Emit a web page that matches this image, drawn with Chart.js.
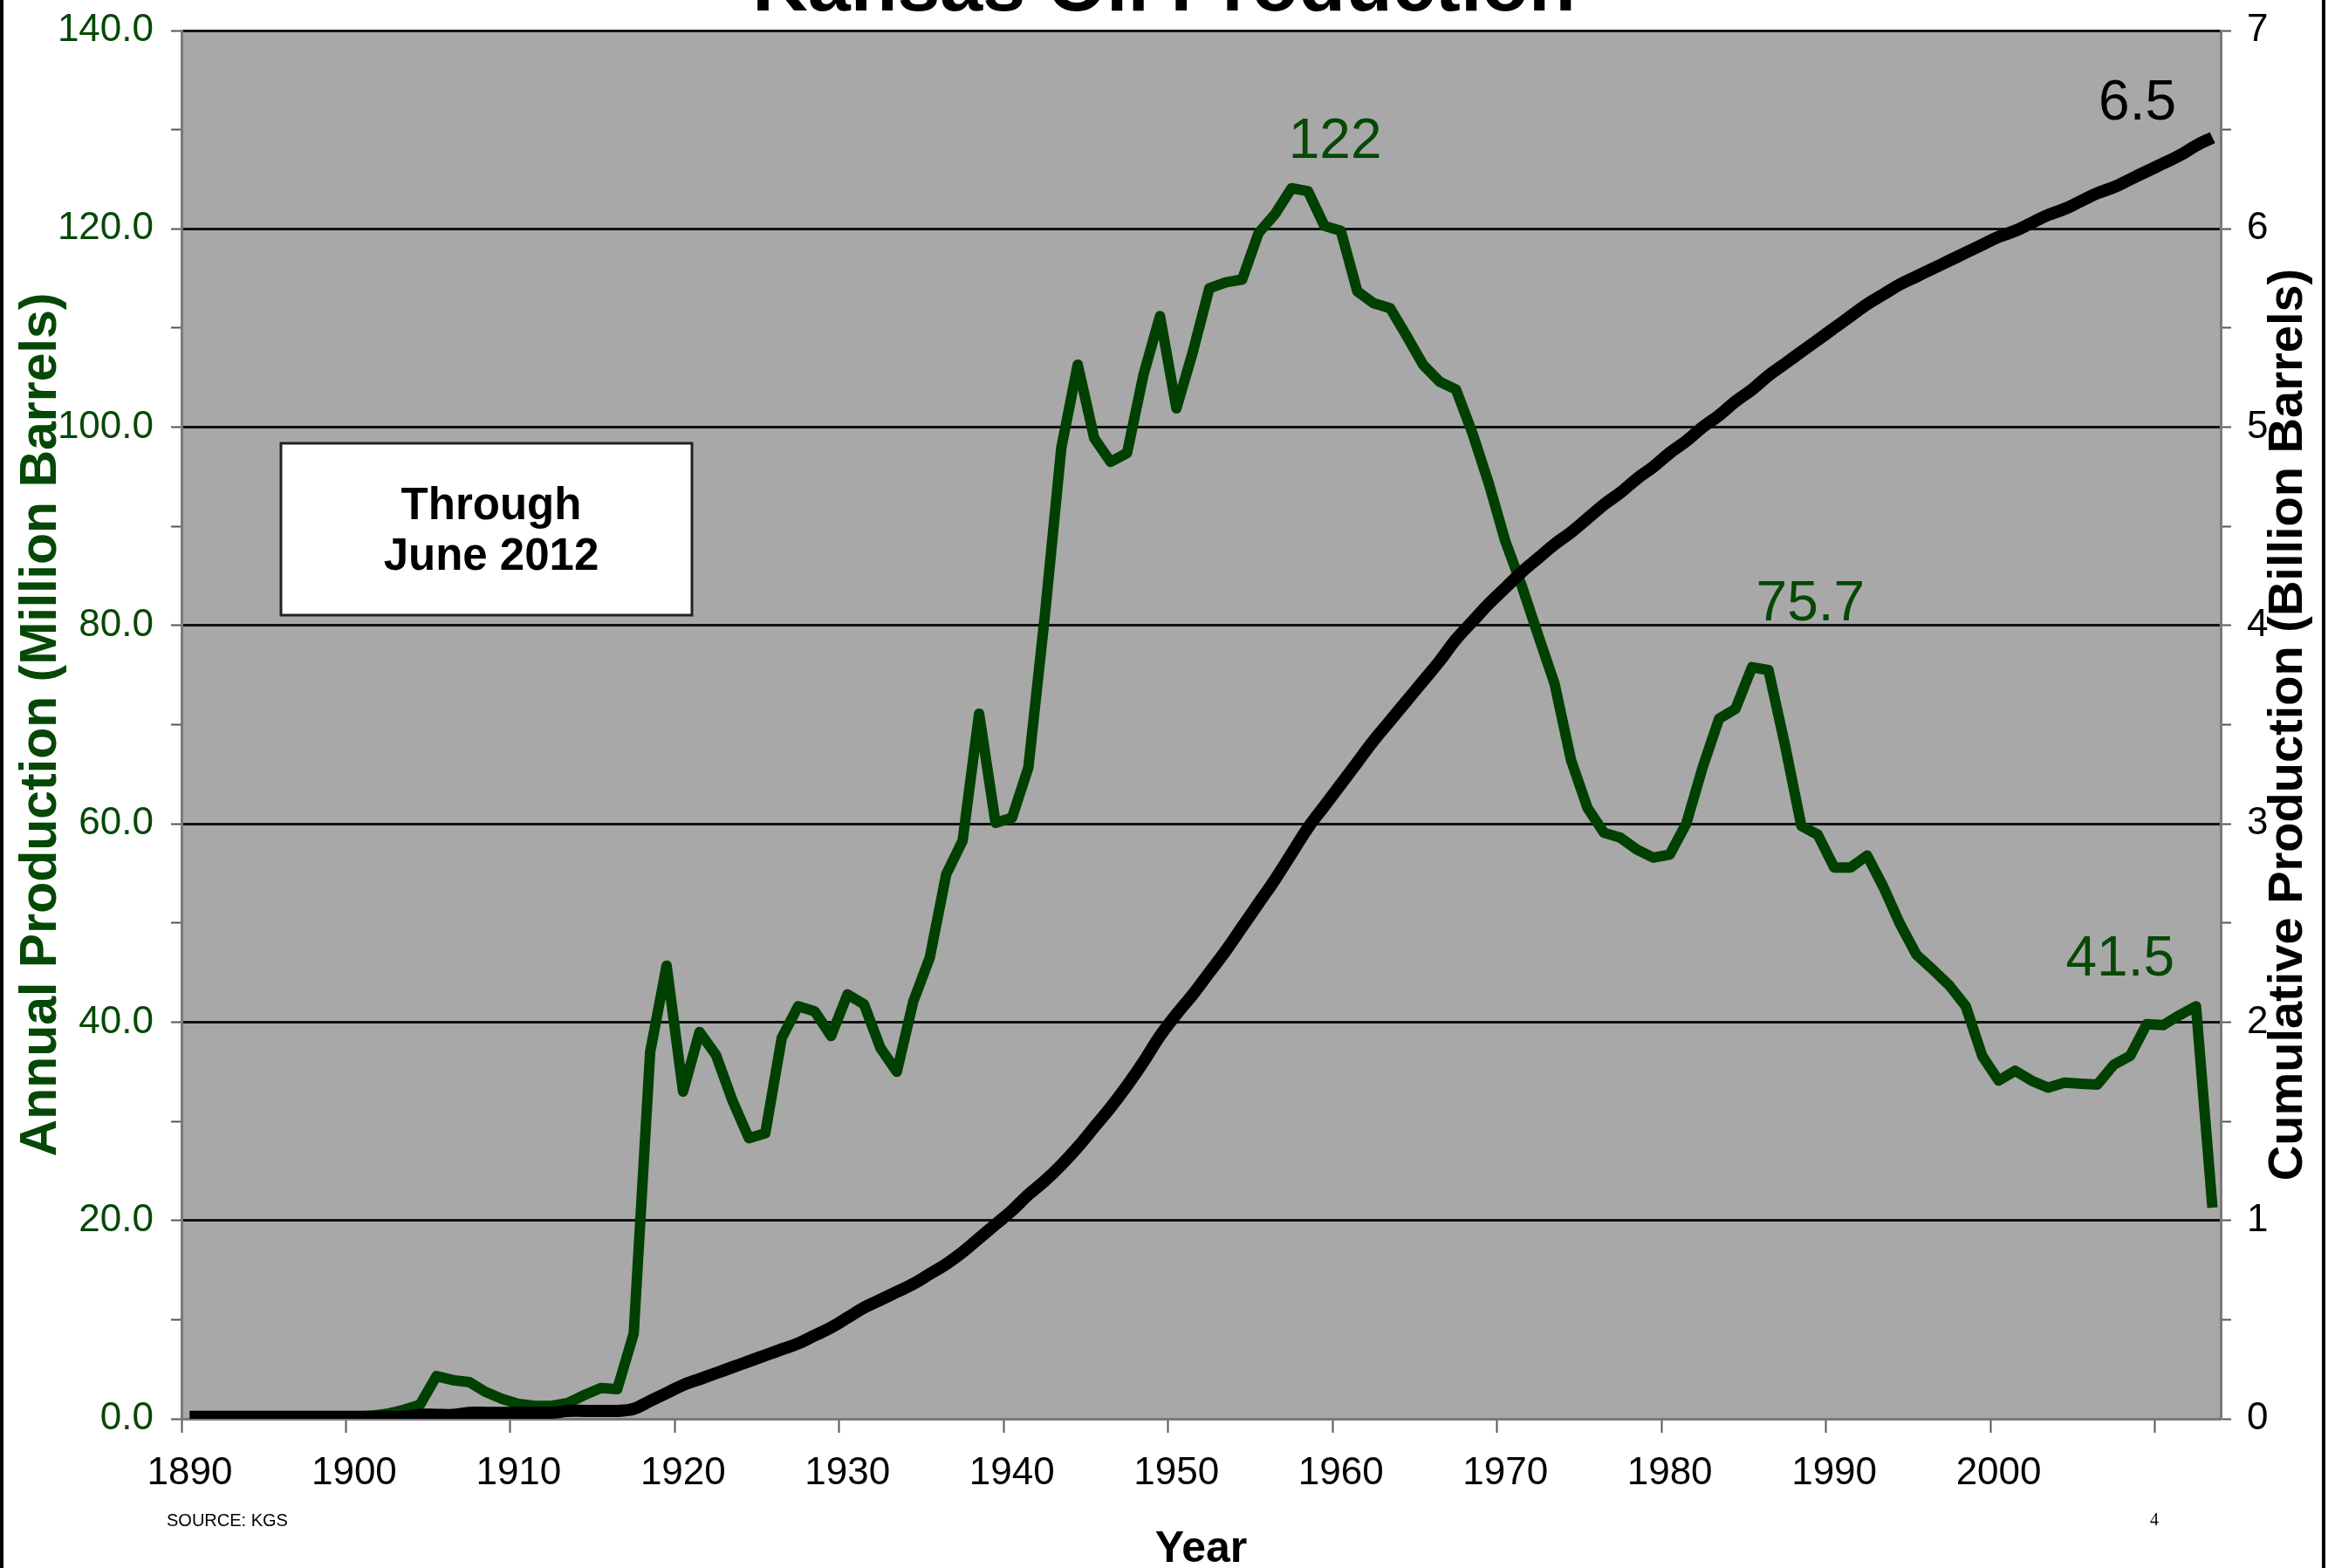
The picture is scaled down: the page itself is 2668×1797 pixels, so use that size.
<!DOCTYPE html>
<html>
<head>
<meta charset="utf-8">
<title>Kansas Oil Production</title>
<script src="https://cdn.jsdelivr.net/npm/chart.js@4.4.1/dist/chart.umd.min.js"></script>
<style>
  html, body { margin: 0; padding: 0; background: #fff; }
  #wrap { width: 2668px; height: 1797px; position: relative; }
</style>
</head>
<body>
<div id="wrap"><canvas id="oilChart" width="2668" height="1797"></canvas></div>
<script>
// categories (one per year on the axis)
const years = [
  1890, 1891, 1892, 1893, 1894, 1895, 1896, 1897, 1898, 1899,
  1900, 1901, 1902, 1903, 1904, 1905, 1906, 1907, 1908, 1909,
  1910, 1911, 1912, 1913, 1914, 1915, 1916, 1917, 1918, 1919,
  1920, 1921, 1922, 1923, 1924, 1925, 1926, 1927, 1928, 1929,
  1930, 1931, 1932, 1933, 1934, 1935, 1936, 1937, 1938, 1939,
  1940, 1941, 1942, 1943, 1944, 1945, 1946, 1947, 1948, 1949,
  1950, 1951, 1952, 1953, 1954, 1955, 1956, 1957, 1958, 1959,
  1960, 1961, 1962, 1963, 1964, 1965, 1966, 1967, 1968, 1969,
  1970, 1971, 1972, 1973, 1974, 1975, 1976, 1977, 1978, 1979,
  1980, 1981, 1982, 1983, 1984, 1985, 1986, 1987, 1988, 1989,
  1990, 1991, 1992, 1993, 1994, 1995, 1996, 1997, 1998, 1999,
  2000, 2001, 2002, 2003, 2004, 2005, 2006, 2007, 2008, 2009,
  2010, 2011, 2012, 2013
];

// annual production, million barrels (left axis)
const annualProduction = [
  0.2, 0.2, 0.2, 0.2, 0.2, 0.2, 0.2, 0.2, 0.2, 0.2,
  0.2, 0.3, 0.5, 0.9, 1.4, 4.3, 3.9, 3.7, 2.7, 2.0,
  1.5, 1.3, 1.3, 1.6, 2.4, 3.1, 3.0, 8.6, 37.0, 45.7,
  33.0, 39.0, 36.7, 32.1, 28.3, 28.8, 38.4, 41.6, 41.1, 38.6,
  42.8, 41.8, 37.4, 35.0, 42.1, 46.5, 54.9, 58.3, 71.1, 60.1,
  60.6, 65.7, 81.0, 97.9, 106.3, 98.9, 96.5, 97.4, 105.3, 111.2,
  101.9, 107.6, 114.0, 114.6, 114.9, 119.6, 121.5, 124.1, 123.8, 120.3,
  119.8, 113.7, 112.5, 112.0, 109.2, 106.3, 104.6, 103.8, 99.4, 94.3,
  88.5, 84.0, 79.0, 74.1, 66.4, 61.6, 59.1, 58.6, 57.4, 56.6,
  56.9, 60.0, 65.7, 70.6, 71.6, 75.8, 75.5, 68.0, 59.8, 58.9,
  55.6, 55.6, 56.8, 53.6, 49.9, 46.8, 45.3, 43.7, 41.6, 36.6,
  34.1, 35.1, 34.1, 33.4, 33.9, 33.8, 33.7, 35.7, 36.6, 39.8,
  39.7, 40.7, 41.6, 21.3
];

// cumulative production, billion barrels (right axis)
const cumulativeProduction = [
  0.01, 0.01, 0.01, 0.01, 0.01, 0.01, 0.01, 0.01, 0.01, 0.01,
  0.01, 0.01, 0.01, 0.01, 0.02, 0.02, 0.02, 0.03, 0.03, 0.03,
  0.03, 0.03, 0.03, 0.04, 0.04, 0.04, 0.04, 0.05, 0.09, 0.13,
  0.17, 0.20, 0.23, 0.26, 0.29, 0.32, 0.35, 0.38, 0.42, 0.46,
  0.51, 0.56, 0.60, 0.64, 0.68, 0.73, 0.78, 0.84, 0.91, 0.98,
  1.05, 1.13, 1.20, 1.28, 1.37, 1.47, 1.57, 1.68, 1.80, 1.93,
  2.04, 2.14, 2.25, 2.36, 2.48, 2.60, 2.72, 2.85, 2.98, 3.09,
  3.20, 3.31, 3.42, 3.52, 3.62, 3.72, 3.82, 3.93, 4.02, 4.11,
  4.19, 4.27, 4.34, 4.41, 4.47, 4.54, 4.61, 4.67, 4.74, 4.80,
  4.87, 4.93, 5.00, 5.06, 5.13, 5.19, 5.26, 5.32, 5.38, 5.44,
  5.50, 5.56, 5.62, 5.67, 5.72, 5.76, 5.80, 5.84, 5.88, 5.92,
  5.96, 5.99, 6.03, 6.07, 6.10, 6.14, 6.18, 6.21, 6.25, 6.29,
  6.33, 6.37, 6.42, 6.46
];

// callout texts and the year they sit by
const peakLabels = ['122', '75.7', '41.5'];
const peakYears = [1957, 1985, 2012];
const cumulativeLabel = '6.5';
const noteLines = ['Through', 'June 2012'];

const FONT = '"Liberation Sans", Arial, Helvetica, sans-serif';
const GREEN = '#004000';
const GREEN_TEXT = '#064806';

const decor = {
  id: 'decor',
  beforeDraw(chart) {
    const { ctx, chartArea: a } = chart;
    ctx.save();
    ctx.fillStyle = '#ffffff';
    ctx.fillRect(0, 0, chart.width, chart.height);
    ctx.fillStyle = '#a8a8a8';
    ctx.fillRect(a.left, a.top, a.right - a.left, a.bottom - a.top);
    ctx.restore();
  },
  afterDatasetsDraw(chart) {
    const { ctx, chartArea: a } = chart;
    const xs = chart.scales.x, yl = chart.scales.yLeft, yr = chart.scales.yRight;
    ctx.save();

    // peak callouts
    const offsets = [[50, -35], [67, -54], [-87, -35]];
    ctx.font = '64px ' + FONT;
    ctx.textAlign = 'center';
    ctx.textBaseline = 'alphabetic';
    ctx.fillStyle = GREEN_TEXT;
    peakLabels.forEach((t, k) => {
      const i = years.indexOf(peakYears[k]);
      ctx.fillText(t, xs.getPixelForValue(i) + offsets[k][0],
        yl.getPixelForValue(annualProduction[i]) + offsets[k][1]);
    });
    const last = years.length - 1;
    ctx.fillStyle = '#000';
    ctx.fillText(cumulativeLabel, xs.getPixelForValue(last) - 86,
      yr.getPixelForValue(cumulativeProduction[last]) - 21);

    // "Through June 2012" box
    const bx = a.left + 114, by = a.top + 473, bw = 471, bh = 197;
    ctx.fillStyle = '#ffffff';
    ctx.fillRect(bx, by, bw, bh);
    ctx.lineWidth = 3;
    ctx.strokeStyle = '#222';
    ctx.strokeRect(bx, by, bw, bh);
    ctx.fillStyle = '#000';
    ctx.font = 'bold 51px ' + FONT;
    ctx.fillText(noteLines[0], bx + 241, by + 87);
    ctx.fillText(noteLines[1], bx + 241, by + 145);
    ctx.restore();
  },
  afterDraw(chart) {
    const { ctx, chartArea: a } = chart;
    ctx.save();
    // title, mostly cut off at the top edge
    ctx.fillStyle = '#000';
    ctx.font = 'bold 88px ' + FONT;
    ctx.textAlign = 'center';
    ctx.textBaseline = 'alphabetic';
    ctx.fillText('Kansas Oil Production', chart.width / 2, 12);

    // right axis title, reading bottom to top
    ctx.save();
    ctx.translate(a.right + 78, (a.top + a.bottom) / 2);
    ctx.rotate(-Math.PI / 2);
    ctx.font = 'bold 56px ' + FONT;
    ctx.textBaseline = 'middle';
    ctx.fillText('Cumulative Production (Billion Barrels)', 0, 0);
    ctx.restore();

    // x axis title
    ctx.font = 'bold 50px ' + FONT;
    ctx.fillText('Year', (a.left + a.right) / 2, 1790);

    // footer
    ctx.font = '20px ' + FONT;
    ctx.textAlign = 'left';
    ctx.fillText('SOURCE: KGS', 191, 1749);
    ctx.font = '20px "Liberation Serif", "Times New Roman", serif';
    ctx.textAlign = 'center';
    ctx.fillText('4', 2469, 1748);

    // slide edges
    ctx.fillRect(0, 0, 4, chart.height);
    ctx.fillRect(2661, 0, 4, chart.height);
    ctx.restore();
  }
};

// fixed axis box sizes so the plot sits where the original does
function fitY(width) {
  return (s) => {
    s.width = width;
    s.paddingTop = 0;
    s.paddingBottom = 0;
  };
}

const ctxOil = document.getElementById('oilChart');

new Chart(ctxOil, {
  type: 'line',
  data: {
    labels: years,
    datasets: [
      {
        label: 'Cumulative Production',
        data: cumulativeProduction,
        yAxisID: 'yRight',
        borderColor: '#000000',
        borderWidth: 14,
        borderJoinStyle: 'round',
        tension: 0.4,
        pointRadius: 0,
        order: 0,
      },
      {
        label: 'Annual Production',
        data: annualProduction,
        yAxisID: 'yLeft',
        borderColor: GREEN,
        borderWidth: 12,
        borderJoinStyle: 'round',
        pointRadius: 0,
        order: 1,
      },
    ],
  },
  options: {
    responsive: false,
    animation: false,
    devicePixelRatio: 1,
    layout: { padding: { top: 35, left: 0, right: 0, bottom: 0 } },
    plugins: {
      legend: { display: false },
      tooltip: { enabled: false },
    },
    scales: {
      x: {
        type: 'category',
        offset: true,
        afterFit: (s) => { s.height = 171; },
        border: { color: '#7a7a7a', width: 3 },
        grid: {
          offset: true,
          drawOnChartArea: false,
          tickLength: 16,
          tickWidth: 2,
          color: (c) => (c.index % 10 === 0 && c.index <= 120) ? '#555' : 'rgba(0,0,0,0)',
        },
        ticks: {
          autoSkip: false,
          maxRotation: 0,
          minRotation: 0,
          padding: 20,
          color: '#000',
          font: { family: FONT, size: 44 },
          callback: function (v, i) {
            return (i % 10 === 0 && i < 120) ? String(years[i]) : '';
          },
        },
      },
      yLeft: {
        position: 'left',
        min: 0,
        max: 140,
        afterFit: fitY(208),
        border: { color: '#7a7a7a', width: 3 },
        grid: {
          lineWidth: 3,
          color: (c) => (c.tick && c.tick.value % 20 === 0 && c.tick.value !== 0) ? '#111' : 'rgba(0,0,0,0)',
          tickColor: '#555',
          tickWidth: 2,
          tickLength: 12,
        },
        ticks: {
          stepSize: 10,
          padding: 20,
          color: GREEN_TEXT,
          font: { family: FONT, size: 44 },
          callback: (v) => (v % 20 === 0 ? v.toFixed(1) : ''),
        },
        title: {
          display: true,
          text: 'Annual Production (Million Barrels)',
          color: GREEN_TEXT,
          font: { family: FONT, size: 59, weight: 'bold' },
          padding: { top: 12, bottom: 0 },
        },
      },
      yRight: {
        position: 'right',
        min: 0,
        max: 7,
        afterFit: fitY(123),
        border: { color: '#7a7a7a', width: 3 },
        grid: {
          drawOnChartArea: false,
          tickColor: '#555',
          tickWidth: 2,
          tickLength: 12,
        },
        ticks: {
          stepSize: 0.5,
          padding: 18,
          color: '#000',
          font: { family: FONT, size: 44 },
          callback: (v) => (Number.isInteger(v) ? String(v) : ''),
        },
      },
    },
  },
  plugins: [decor],
});
</script>
</body>
</html>
